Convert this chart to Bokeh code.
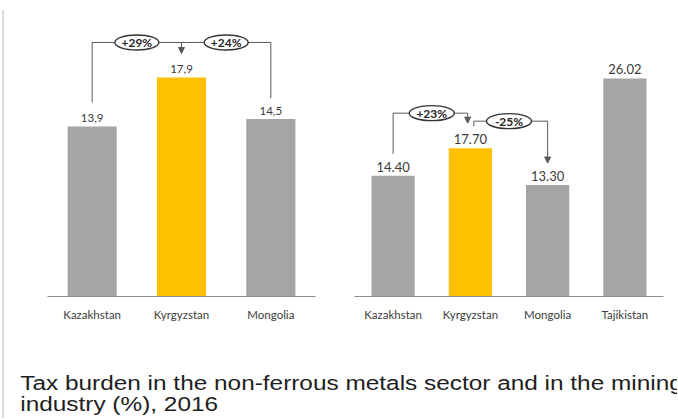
from bokeh.plotting import figure
from bokeh.models import Range1d, FixedTicker, Arrow, NormalHead, ColumnDataSource, Div
from bokeh.layouts import column, row
from bokeh.embed import file_html
from bokeh.resources import INLINE
from bokeh.core.properties import value

# ---------------- data ----------------
left_countries = ["Kazakhstan", "Kyrgyzstan", "Mongolia"]
left_values = [13.9, 17.9, 14.5]
left_value_labels = ["13,9", "17,9", "14,5"]
left_change_labels = ["+29%", "+24%"]

right_countries = ["Kazakhstan", "Kyrgyzstan", "Mongolia", "Tajikistan"]
right_values = [14.40, 17.70, 13.30, 26.02]
right_value_labels = ["14.40", "17.70", "13.30", "26.02"]
right_change_labels = ["+23%", "-25%"]

highlight = "Kyrgyzstan"
caption_lines = ["Tax burden in the non-ferrous metals sector and in the mining",
                 "industry (%), 2016"]

# ---------------- style ----------------
GRAY = "#a5a5a5"
GOLD = "#ffc000"
LINE = "#595959"
TEXT = "#3c3c3c"
FONT = "Lato"
BORDER = "#dadada"

TOP_PAD = 20
FRAME_H = 266
BOTTOM_PAD = 44
FIG_H = TOP_PAD + FRAME_H + BOTTOM_PAD


def make_chart(countries, values, labels, y_end, width, mbl, mbr, bar_w, label_size):
    n = len(countries)
    p = figure(width=width, height=FIG_H,
               x_range=Range1d(-0.5, n - 0.5), y_range=Range1d(0, y_end),
               output_backend="svg", toolbar_location=None, y_axis_location=None,
               min_border_left=mbl, min_border_right=mbr,
               min_border_top=TOP_PAD, min_border_bottom=BOTTOM_PAD)
    p.outline_line_color = None
    p.xgrid.visible = False
    p.ygrid.visible = False
    p.background_fill_color = "white"
    p.border_fill_color = "white"
    ax = p.xaxis[0]
    ax.ticker = FixedTicker(ticks=list(range(n)))
    ax.major_label_overrides = {i: c for i, c in enumerate(countries)}
    ax.major_tick_line_color = None
    ax.minor_tick_line_color = None
    ax.axis_line_color = "#8c8c8c"
    ax.axis_line_width = 1
    ax.major_label_text_font = FONT
    ax.major_label_text_font_size = "11.5px"
    ax.major_label_text_color = TEXT
    ax.major_label_standoff = 5

    src = ColumnDataSource(dict(
        x=list(range(n)), top=values, label=labels,
        color=[GOLD if c == highlight else GRAY for c in countries]))
    p.vbar(x="x", top="top", width=bar_w, fill_color="color", line_color=None, source=src)
    p.text(x="x", y="top", text="label", source=src, text_align="center",
           text_baseline="bottom", y_offset=-4, text_font=value(FONT),
           text_font_size=label_size, text_color=TEXT)
    return p


def bubble(p, xs, ys, texts, w):
    p.ellipse(x=xs, y=ys, width=w, height=15, width_units="screen", height_units="screen",
              fill_color="white", line_color="#333333", line_width=1.4)
    p.text(x=xs, y=ys, text=texts, text_align="center", text_baseline="middle",
           text_font=value(FONT), text_font_style="bold", text_font_size="12px",
           text_color="#262626")


def arrow(p, x, y0, y1):
    p.add_layout(Arrow(end=NormalHead(size=6, fill_color=LINE, line_color=LINE),
                       x_start=x, y_start=y0, x_end=x, y_end=y1,
                       line_color=LINE, line_width=1))


# ---------------- left chart ----------------
yL = 21.74
left = make_chart(left_countries, left_values, left_value_labels, yL,
                  width=331, mbl=43, mbr=20, bar_w=0.55, label_size="11.5px")
u = yL / FRAME_H
kz, kg, mn = left_values
H = max(left_values) + 35 * u
left.segment(x0=[0, 0, 2], y0=[kz + 24 * u, H, H], x1=[0, 2, 2], y1=[H, H, mn + 21 * u],
             line_color=LINE, line_width=1)
arrow(left, 1, H, kg + 24 * u)
bubble(left, [0.5, 1.5], [H, H], left_change_labels, 44)

# ---------------- right chart ----------------
yR = 31.74
right = make_chart(right_countries, right_values, right_value_labels, yR,
                   width=342, mbl=19, mbr=14, bar_w=0.56, label_size="13px")
u = yR / FRAME_H
kz, kg, mn, tj = right_values
H1 = kg + 35 * u
H2 = kg + 27 * u
right.segment(x0=[0, 0, 1.045, 1.045], y0=[kz + 22 * u, H1, kg + 22 * u, H2],
              x1=[0, 0.965, 1.045, 2], y1=[H1, H1, H2, H2],
              line_color=LINE, line_width=1)
arrow(right, 0.965, H1, kg + 25 * u)
arrow(right, 2, H2, mn + 22 * u)
bubble(right, [0.5, 1.5], [H1, H2], right_change_labels, 45)

# ---------------- caption ----------------
cap = Div(text=(
    '<div style="font-family: \'Liberation Sans\', Arial, sans-serif; font-size: 19.5px; '
    'line-height: 21px; color: #1e1e1e; white-space: nowrap; transform: scaleX(1.25); '
    'transform-origin: 0 0; padding: 33px 0 0 13px;">'
    + caption_lines[0] + '<br>' + caption_lines[1] + '</div>'),
    width=673, height=78, margin=0, styles={"overflow": "hidden"})

# ---------------- frame lines (light gray box edge) ----------------
top_edge = Div(text=('<div style="height:8px"></div>'
                     '<div style="height:2px;margin-left:2px;background:%s"></div>' % BORDER),
               width=677, height=10, margin=0, styles={"overflow": "hidden"})
left_edge = Div(text=('<div style="margin-left:2px;width:2px;height:420px;background:%s"></div>'
                      % BORDER),
                width=4, height=408, margin=0, styles={"overflow": "hidden"})

layout = column(top_edge, row(left_edge, column(row(left, right), cap)))
open("out.html", "w").write(file_html(layout, INLINE))
